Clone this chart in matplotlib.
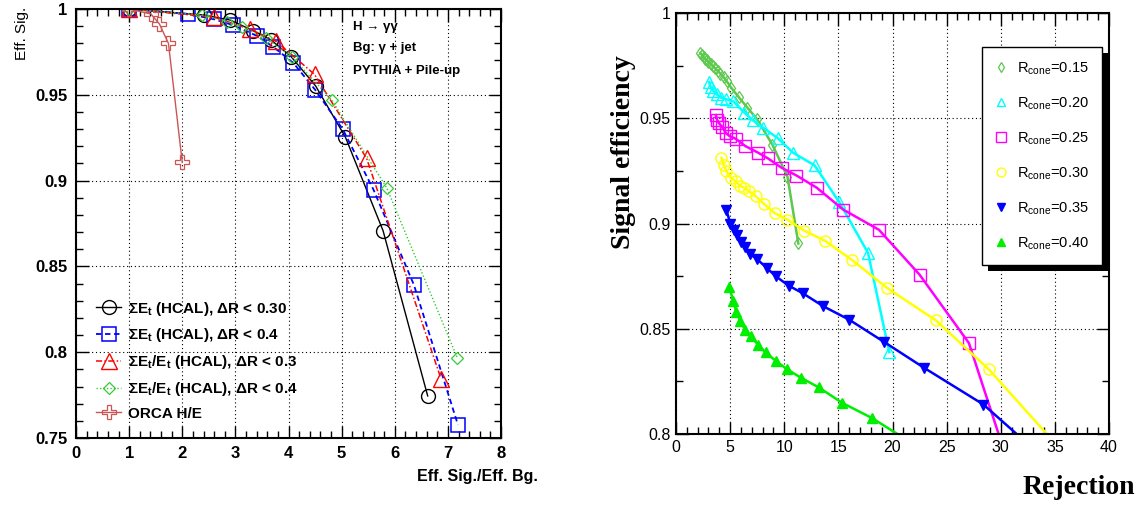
import matplotlib
matplotlib.use("Agg")
import matplotlib.pyplot as plt
from matplotlib.patches import Rectangle
from matplotlib.ticker import MultipleLocator

plt.rcParams['mathtext.fontset'] = 'custom'
plt.rcParams['mathtext.rm'] = 'Liberation Sans'
plt.rcParams['mathtext.bf'] = 'Liberation Sans:bold'

# left panel: efficiency vs eff. sig./eff. bg.
et03_x = [1.0, 2.4, 2.9, 3.34, 3.67, 4.05, 4.51, 5.07, 5.78, 6.62]
et03_y = [1.0, 0.9965, 0.9936, 0.9873, 0.982, 0.9722, 0.9552, 0.9254, 0.8708, 0.7745]
et04_x = [1.0, 2.11, 2.6, 2.95, 3.4, 3.71, 4.09, 4.5, 5.02, 5.6, 6.36, 7.19]
et04_y = [1.0, 0.9971, 0.994, 0.9907, 0.9844, 0.978, 0.9686, 0.953, 0.930, 0.8947, 0.8393, 0.7576]
rel03_x = [1.0, 2.6, 3.27, 3.77, 4.49, 5.47, 6.87]
rel03_y = [1.0, 0.9952, 0.9884, 0.9811, 0.9619, 0.913, 0.7846]
rel04_x = [1.0, 2.37, 2.84, 3.13, 3.58, 4.07, 4.82, 5.85, 7.18]
rel04_y = [1.0, 0.9965, 0.9927, 0.9894, 0.983, 0.972, 0.9467, 0.8957, 0.7965]
orca_x = [1.0, 1.41, 1.57, 1.74, 2.0]
orca_y = [1.0, 0.9971, 0.9913, 0.980, 0.9106]

left_labels = [r"ΣE$_{\bf t}$ (HCAL), ΔR < 0.30",
               r"ΣE$_{\bf t}$ (HCAL), ΔR < 0.4",
               r"ΣE$_{\bf t}$/E$_{\bf t}$ (HCAL), ΔR < 0.3",
               r"ΣE$_{\bf t}$/E$_{\bf t}$ (HCAL), ΔR < 0.4",
               "ORCA H/E"]

# right panel: signal efficiency vs rejection, one series per cone size
r15_x = [2.25, 2.4, 2.55, 2.7, 2.85, 3.0, 3.2, 3.4, 3.6, 3.85, 4.1, 4.4, 4.7, 5.1, 5.8, 6.6, 7.5, 8.9, 10.3, 11.3]
r15_y = [0.981, 0.980, 0.979, 0.9782, 0.9775, 0.9768, 0.9758, 0.9748, 0.9738, 0.9725, 0.9712, 0.9695,
         0.9675, 0.9645, 0.960, 0.955, 0.9495, 0.9375, 0.9222, 0.8905]
r20_x = [3.05, 3.2, 3.45, 3.75, 4.15, 4.65, 5.3, 6.3, 7.1, 8.05, 9.38, 10.8, 12.8, 15.1, 17.74, 19.7]
r20_y = [0.9672, 0.9648, 0.963, 0.9614, 0.9598, 0.959, 0.958, 0.9527, 0.949, 0.9455, 0.9406, 0.9337,
         0.9276, 0.910, 0.886, 0.8389]
r25_x = [3.68, 3.82, 3.97, 4.27, 4.6, 4.95, 5.5, 6.4, 7.6, 8.47, 9.75, 11.13, 13.0, 15.45, 18.75, 22.5, 27.06, 30.5]
r25_y = [0.9515, 0.949, 0.9476, 0.946, 0.943, 0.9415, 0.9403, 0.9368, 0.9336, 0.931, 0.9265, 0.9228,
         0.917, 0.9066, 0.897, 0.8757, 0.8432, 0.789]
r30_x = [4.2, 4.4, 4.65, 5.05, 5.5, 5.9, 6.3, 6.7, 7.35, 8.15, 9.1, 10.3, 11.85, 13.8, 16.3, 19.5, 24.0, 28.9, 36.0]
r30_y = [0.9312, 0.928, 0.925, 0.9218, 0.920, 0.918, 0.917, 0.9155, 0.913, 0.9092, 0.905, 0.9018,
         0.8966, 0.8917, 0.8825, 0.8694, 0.854, 0.8307, 0.79]
r35_x = [4.65, 5.03, 5.32, 5.68, 5.97, 6.35, 6.85, 7.5, 8.4, 9.2, 10.4, 11.7, 13.6, 16.0, 19.2, 22.9, 28.4, 33.0]
r35_y = [0.9063, 0.900, 0.897, 0.8944, 0.8913, 0.8889, 0.8855, 0.883, 0.8788, 0.875, 0.8705, 0.8669,
         0.8607, 0.8543, 0.8438, 0.8315, 0.814, 0.793]
r40_x = [4.92, 5.27, 5.57, 5.95, 6.4, 6.92, 7.6, 8.28, 9.2, 10.25, 11.55, 13.2, 15.35, 18.1, 22.0]
r40_y = [0.870, 0.8634, 0.858, 0.8537, 0.8493, 0.8465, 0.8422, 0.8388, 0.8348, 0.8308, 0.8267, 0.8221,
         0.8148, 0.8076, 0.795]
cone_labels = [r"R$_{\rm cone}$=0.15", r"R$_{\rm cone}$=0.20", r"R$_{\rm cone}$=0.25",
               r"R$_{\rm cone}$=0.30", r"R$_{\rm cone}$=0.35", r"R$_{\rm cone}$=0.40"]

W, H = 1148, 509
fig = plt.figure(figsize=(W / 100, H / 100), dpi=100)

bold_sans = dict(family=['Liberation Sans', 'DejaVu Sans'], weight='bold')
narrow = ['Liberation Sans Narrow', 'Liberation Sans']

# ---------------- left ----------------
ax1 = fig.add_axes([76 / W, 1 - 438 / H, 425 / W, 429 / H])
ax1.plot(et03_x, et03_y, color='black', lw=1.0, marker='o', ms=10, mfc='none', mew=1.0,
         label=left_labels[0])
ax1.plot(et04_x, et04_y, color='#0000ff', lw=1.3, ls=(0, (3, 2)), marker='s', ms=10, mfc='none',
         mew=1.1, label=left_labels[1])
ax1.plot(rel03_x, rel03_y, color='#ff0000', lw=1.1, ls=(0, (4, 1.5, 1, 1.5)), marker='^', ms=11,
         mfc='none', mew=1.0, label=left_labels[2])
ax1.plot(rel04_x, rel04_y, color='#33cc33', lw=1.0, ls=(0, (1, 1.5)), marker='D', ms=6, mfc='none',
         mew=0.9, label=left_labels[3])
ax1.plot(orca_x, orca_y, color='#cc5555', lw=1.0, marker='P', ms=10, mfc='none', mew=0.9,
         label=left_labels[4])

ax1.set_xlim(0, 8)
ax1.set_ylim(0.75, 1.0)
ax1.xaxis.set_major_locator(MultipleLocator(1))
ax1.xaxis.set_minor_locator(MultipleLocator(0.2))
ax1.yaxis.set_major_locator(MultipleLocator(0.05))
ax1.yaxis.set_minor_locator(MultipleLocator(0.01))
ax1.set_xticks(range(9))
ax1.set_xticklabels([str(i) for i in range(9)])
ax1.set_yticks([0.75, 0.8, 0.85, 0.9, 0.95, 1.0])
ax1.set_yticklabels(['0.75', '0.8', '0.85', '0.9', '0.95', '1'])
ax1.tick_params(which='both', direction='in', top=True, right=True, width=1.0)
ax1.tick_params(which='major', length=9, labelsize=12, pad=6)
ax1.tick_params(which='minor', length=5)
for lab in ax1.get_xticklabels() + ax1.get_yticklabels():
    lab.set_fontweight('bold')
    lab.set_family('Liberation Sans')
ax1.grid(True, which='major', color='black', lw=0.8, ls=(0, (1, 2.5)))
for sp in ax1.spines.values():
    sp.set_linewidth(1.5)

leg1 = ax1.legend(loc='upper left', bbox_to_anchor=(0.03, 0.34), frameon=False,
                  prop=dict(family='Liberation Sans', weight='bold', size=11),
                  handlelength=1.6, handletextpad=0.5, labelspacing=0.57, borderpad=0)

ax1.text(0.652, 0.958, "H → γγ", transform=ax1.transAxes, fontsize=9.5, va='center', **bold_sans)
ax1.text(0.652, 0.908, "Bg: γ + jet", transform=ax1.transAxes, fontsize=9.5, va='center', **bold_sans)
ax1.text(0.652, 0.856, "PYTHIA + Pile-up", transform=ax1.transAxes, fontsize=9.5, va='center',
         **bold_sans)

fig.text(22 / W, 1 - 33 / H, "Eff. Sig.", rotation=90, ha='center', va='center', fontsize=11,
         family='Liberation Sans')
fig.text(538 / W, 1 - 477 / H, "Eff. Sig./Eff. Bg.", ha='right', va='center', fontsize=11.5,
         **bold_sans)

# ---------------- right ----------------
ax2 = fig.add_axes([676 / W, 1 - 434 / H, 433 / W, 421 / H])
ax2.plot(r15_x, r15_y, color='#5cc84e', lw=1.8, marker='d', ms=6, mfc='none', mew=0.9,
         label=cone_labels[0])
ax2.plot(r20_x, r20_y, color='#00ffff', lw=1.8, marker='^', ms=8, mfc='none', mew=1.0,
         label=cone_labels[1])
ax2.plot(r25_x, r25_y, color='#ff00ff', lw=1.8, marker='s', ms=8.5, mfc='none', mew=1.0,
         label=cone_labels[2])
ax2.plot(r30_x, r30_y, color='#ffff00', lw=1.8, marker='o', ms=8, mfc='none', mew=1.0,
         label=cone_labels[3])
ax2.plot(r35_x, r35_y, color='#0000ff', lw=1.8, marker='v', ms=7, label=cone_labels[4])
ax2.plot(r40_x, r40_y, color='#00ee00', lw=1.8, marker='^', ms=7, label=cone_labels[5])

ax2.set_xlim(0, 40)
ax2.set_ylim(0.8, 1.0)
ax2.xaxis.set_major_locator(MultipleLocator(5))
ax2.xaxis.set_minor_locator(MultipleLocator(1))
ax2.set_yticks([0.8, 0.85, 0.9, 0.95, 1.0])
ax2.set_yticklabels(['0.8', '0.85', '0.9', '0.95', '1'])
ax2.yaxis.set_minor_locator(MultipleLocator(0.025))
ax2.tick_params(which='both', direction='in', top=True, right=True, width=1.0)
ax2.tick_params(which='major', length=9, labelsize=11.5, pad=4)
ax2.tick_params(which='minor', length=5)
for lab in ax2.get_xticklabels() + ax2.get_yticklabels():
    lab.set_family(narrow)
ax2.grid(True, which='major', color='black', lw=0.8, ls=(0, (1, 2.5)))
for sp in ax2.spines.values():
    sp.set_linewidth(1.5)

leg2 = ax2.legend(loc='upper left', bbox_to_anchor=(0.707, 0.919), frameon=True, fancybox=False,
                  framealpha=1, prop=dict(family=narrow, size=10.5), handlelength=0.8,
                  handletextpad=0.7, labelspacing=1.25, borderpad=0.9, borderaxespad=0,
                  markerscale=0.8)
leg2.get_frame().set_edgecolor('black')
leg2.get_frame().set_linewidth(1.0)
for h in leg2.legend_handles:
    h.set_linestyle('none')

fig.text(623 / W, 1 - 152 / H, "Signal efficiency", rotation=90, ha='center', va='center',
         fontsize=20, family='Liberation Serif', weight='bold')
fig.text(1135 / W, 1 - 488 / H, "Rejection", ha='right', va='center', fontsize=20,
         family='Liberation Serif', weight='bold')

# black drop shadow behind the right legend
fig.canvas.draw()
bb = leg2.get_window_extent().transformed(fig.transFigure.inverted())
shadow = Rectangle((bb.x0 + 6 / W, bb.y0 - 6 / H), bb.width, bb.height, transform=fig.transFigure,
                   facecolor='black', edgecolor='none', zorder=4.9, clip_on=False)
ax2.add_artist(shadow)

fig.savefig("out.png", dpi=100)
